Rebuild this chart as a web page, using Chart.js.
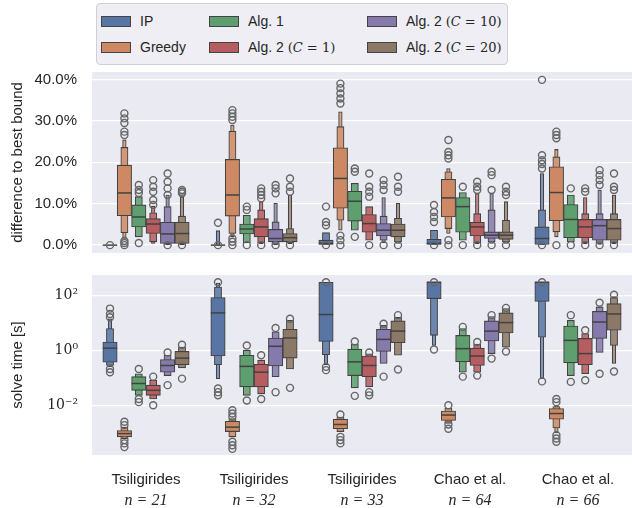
<!DOCTYPE html>
<html>
<head>
<meta charset="utf-8">
<script src="https://cdn.jsdelivr.net/npm/chart.js@4/dist/chart.umd.min.js"></script>
<style>
  html, body { margin: 0; padding: 0; background: #fff; }
  #wrap { position: relative; width: 632px; height: 508px; overflow: hidden; font-family: "Liberation Sans", sans-serif; color: #262626; }
  #top { position: absolute; left: 0; top: 0; }
  #bottom { position: absolute; left: 0; top: 262px; }
  #legend { position: absolute; left: 96px; top: 3px; width: 410px; height: 60px;
            border: 1px solid #cfcfd6; border-radius: 4px; background: #eeeef4; }
  .item { position: absolute; font-size: 14px; line-height: 16px; white-space: nowrap; }
  .patch { display: inline-block; width: 28px; height: 9px; border: 1px solid #444; vertical-align: -1px; margin-right: 9px; }
  .m { font-family: "DejaVu Serif", serif; font-size: 13px; }
  .m i { font-style: italic; }
</style>
</head>
<body>
<div id="wrap">
  <canvas id="top" width="632" height="258"></canvas>
  <canvas id="bottom" width="632" height="246"></canvas>
  <div id="legend"></div>
</div>
<script>
// categories along the x axis
const categories = ['Tsiligirides', 'Tsiligirides', 'Tsiligirides', 'Chao et al.', 'Chao et al.'];
const sizes = ['n = 21', 'n = 32', 'n = 33', 'n = 64', 'n = 66'];
const seriesNames = ['IP', 'Greedy', 'Alg. 1', 'Alg. 2 (C = 1)', 'Alg. 2 (C = 10)', 'Alg. 2 (C = 20)'];
const colors = ['#5875a4', '#cc8963', '#5f9e6e', '#b55d60', '#857aab', '#8c7866'];

// difference to best bound [%], one row per series, one entry per category
const gapMedian = [
  [0, 0, 0.4, 0.4, 1.6],
  [12.6, 12.1, 16.1, 11.4, 12.7],
  [6.8, 3.9, 10.6, 9.3, 6.2],
  [5.1, 4.4, 5.2, 4.4, 4.4],
  [2.7, 1.6, 3.6, 2.4, 4.7],
  [2.8, 1.8, 3.6, 2.4, 4.0]
];
// letter-value boxes, widest (quartiles) first
const gapBoxes = [
  [[[0, 0]], [[0, 0], [0, 0], [0, 3.5]], [[0, 1.2], [0, 3.0]], [[0, 1.4], [0, 3.6]], [[0, 4.4], [0, 8.5], [0, 17.3]]],
  [[[7.1, 19.3], [3.0, 23.6], [1.6, 25.4]], [[7.0, 20.7], [2.8, 27.5], [2.0, 29.0]], [[8.9, 23.5], [6.0, 28.6], [3.6, 32.2]],
   [[6.8, 15.9], [4.0, 17.7], [2.8, 18.5]], [[5.9, 18.9], [3.2, 21.3], [2.0, 23.1]]],
  [[[4.4, 9.7], [2.0, 11.7]], [[2.7, 5.1], [0.6, 7.2]], [[5.8, 13.0], [3.6, 14.9]], [[3.1, 11.5], [1.2, 12.7]], [[1.8, 9.8], [0.8, 12.1]]],
  [[[2.8, 6.4], [0.8, 7.8], [0.4, 9.4]], [[2.0, 6.4], [0.6, 8.5], [0.3, 10.5]], [[3.1, 7.4], [1.2, 9.3]],
   [[2.2, 5.5], [0.6, 7.6], [0.3, 12.5]], [[1.8, 6.2], [0.6, 7.6], [0.3, 11.5]]],
  [[[0.4, 5.5], [0.2, 9.3], [0.1, 12.1]], [[0.8, 3.8], [0.2, 5.6], [0.1, 10.1]], [[2.2, 5.2], [1.2, 7.0], [0.6, 11.5]],
   [[1.6, 3.2], [0.8, 8.5], [0.4, 12.5]], [[1.2, 6.2], [0.4, 7.6], [0.2, 13.3]]],
  [[[0.4, 5.5], [0.2, 7.0], [0.1, 11.7]], [[0.8, 2.8], [0.6, 4.0], [0.3, 12.1]], [[2.0, 5.1], [0.8, 6.5], [0.4, 10.1]],
   [[1.4, 3.2], [0.8, 6.0], [0.4, 10.5]], [[1.2, 6.2], [0.6, 7.6], [0.3, 12.1]]]
];
const gapOutliers = [
  [[0], [5.4, 0], [9.3, 5.6, 4.8, 0], [9.7, 8.0, 6.8, 5.6, 0], [39.9, 21.7, 20.5, 19.6, 18.5, 0]],
  [[31.8, 30.6, 29.5, 27.4, 26.6, 1.0, 0.5, 0], [32.6, 31.8, 31.0, 30.2, 1.6, 0.8, 0], [39.0, 37.9, 36.6, 35.4, 34.2, 2.3, 1.2, 0],
   [25.4, 22.5, 21.7, 20.9, 1.2, 0], [27.4, 26.6, 25.8, 0]],
  [[14.5, 13.3, 12.6, 0.5], [9.3, 8.5, 0], [18.5, 17.7, 2.0], [14.1, 0], [13.7, 0]],
  [[15.7, 14.1, 12.9, 10.9, 9.7], [13.7, 12.9, 12.1, 11.3, 0], [17.3, 14.1, 12.9, 11.7, 0], [15.3, 14.1, 13.3, 0], [13.7, 12.9, 0]],
  [[17.3, 15.3, 13.7, 12.1, 0], [14.5, 13.7, 12.5, 0], [15.7, 14.5, 13.3, 0], [17.7, 16.9, 13.3, 0], [18.1, 16.9, 15.7, 14.5, 0]],
  [[13.3, 12.9, 12.5, 0], [16.1, 14.1, 12.9, 0], [16.5, 14.1, 12.9, 0], [14.1, 12.9, 12.1, 0], [17.3, 14.1, 13.3, 0]]
];

// solve time [s]
const timeMedian = [
  [1.2, 23, 20, 300, 300],
  [0.00093, 0.0016, 0.0020, 0.0044, 0.0050],
  [0.062, 0.26, 0.38, 1.15, 2.3],
  [0.035, 0.16, 0.28, 0.62, 0.76],
  [0.28, 1.4, 2.5, 5.0, 10.7],
  [0.52, 2.8, 5.0, 10.2, 21]
];
const timeBoxes = [
  [[[0.37, 2.0], [0.28, 6.2], [0.25, 14]], [[0.62, 83], [0.30, 200], [0.093, 280]], [[2.1, 300], [0.69, 300], [0.30, 300]],
   [[76, 300], [3.5, 300], [1.5, 300]], [[60, 300], [3.0, 300], [0.093, 300]]],
  [[[0.00071, 0.0012], [0.0006, 0.0016]], [[0.0011, 0.0026], [0.00071, 0.0033]], [[0.0014, 0.0031], [0.0011, 0.0037]],
   [[0.0028, 0.0062], [0.0022, 0.0078]], [[0.0031, 0.0076], [0.0015, 0.009], [0.001, 0.01]]],
  [[[0.035, 0.11], [0.023, 0.14]], [[0.047, 0.66], [0.023, 1.0]], [[0.12, 1.1], [0.043, 1.7]], [[0.38, 3.5], [0.16, 6.2]], [[0.35, 7.6], [0.12, 12.3]]],
  [[[0.023, 0.054], [0.017, 0.081]], [[0.047, 0.31], [0.026, 0.44]], [[0.11, 0.62], [0.047, 0.75]], [[0.28, 1.2], [0.16, 1.7]], [[0.30, 2.7], [0.14, 4.1]]],
  [[[0.16, 0.46], [0.12, 0.66]], [[0.27, 2.8], [0.11, 4.7]], [[0.91, 5.8], [0.33, 8.1]], [[2.2, 11.7], [0.76, 17]], [[2.7, 26], [0.83, 38]]],
  [[[0.30, 0.91], [0.23, 1.3]], [[0.52, 5.8], [0.21, 12.3]], [[1.9, 11.7], [0.66, 16]], [[4.3, 23], [1.3, 33]], [[5.4, 50], [1.5, 83], [0.33, 90]]]
];
const timeOutliers = [
  [[33, 21, 16, 0.21, 0.16], [300, 0.041, 0.030, 0.023], [300, 0.25, 0.19], [300, 1.07], [300, 0.074]],
  [[0.0025, 0.0019, 0.00054, 0.00041, 0.0003], [0.0066, 0.005, 0.0038, 0.00047, 0.00035, 0.00026], [0.0046, 0.00071, 0.00054, 0.00041],
   [0.01, 0.002, 0.0014], [0.017, 0.013, 0.00081, 0.00062, 0.00047]],
  [[0.21, 0.017, 0.013], [1.5, 0.015], [2.1, 0.022], [7.1, 0.11], [19, 0.071]],
  [[0.11, 0.01], [0.66, 0.017], [0.83, 0.03, 0.023], [2.0, 0.12], [5.4, 0.081]],
  [[0.83, 0.054], [6.5, 0.03], [9.3, 0.11], [19, 0.5], [54, 0.14]],
  [[1.6, 0.093], [14, 0.043], [19, 0.2], [35, 0.91], [105, 0.17]]
];

const timeTicks = [0.01, 1, 100];
const timeTickLabels = ['10\u207B\u00B2', '10\u2070', '10\u00B2'];

// hue offsets inside a category (seaborn dodge, width .8 / 6)
const offsets = seriesNames.map((_, i) => (i - 2.5) * 0.8 / 6);
const boxWidths = [14.4, 7.2, 3.6, 1.8];
const edge = '#424242';

function tint(hex, t) {
  const n = parseInt(hex.slice(1), 16);
  const c = [n >> 16, (n >> 8) & 255, n & 255].map(v => Math.round(v + (255 - v) * t));
  return `rgb(${c[0]},${c[1]},${c[2]})`;
}

function buildDatasets(medians, boxes, outliers) {
  const out = [];
  const outPts = [];
  outliers.forEach((row, s) => row.forEach((vals, g) => vals.forEach(v => outPts.push({ x: g + offsets[s], y: v }))));
  out.push({
    type: 'scatter', data: outPts, pointStyle: 'circle', pointRadius: 3.5,
    backgroundColor: 'rgba(0,0,0,0)', borderColor: '#666666', borderWidth: 1.4
  });
  const medPts = [];
  medians.forEach((row, s) => row.forEach((v, g) => medPts.push({ x: g + offsets[s], y: v })));
  out.push({
    type: 'scatter', data: medPts, pointStyle: 'line', pointRadius: boxWidths[0] / 2,
    borderColor: edge, borderWidth: 1.5
  });
  for (let lvl = 0; lvl < boxWidths.length; lvl++) {
    boxes.forEach((row, s) => {
      const pts = [];
      row.forEach((levels, g) => { if (levels[lvl]) pts.push({ x: g + offsets[s], y: levels[lvl] }); });
      if (!pts.length) return;
      out.push({
        type: 'bar', data: pts, grouped: false, barThickness: boxWidths[lvl],
        backgroundColor: tint(colors[s], lvl * 0.12), borderColor: edge, borderWidth: 1.1, borderSkipped: false
      });
    });
  }
  return out;
}

const bgPlugin = {
  id: 'bg',
  beforeDraw(chart) {
    const { ctx, chartArea: a } = chart;
    ctx.save();
    ctx.fillStyle = '#eaeaf2';
    ctx.fillRect(a.left, a.top, a.width, a.height);
    ctx.restore();
  }
};

// fixed axis sizes, and no extra room for the edge labels
function fixWidth(w) {
  return s => { s.width = w; s.paddingTop = 0; s.paddingBottom = 0; };
}
function fixHeight(h) {
  return s => { s.height = h; s.paddingLeft = 0; s.paddingRight = 0; };
}

const xBase = { type: 'linear', min: -0.5, max: 4.5, offset: false, grace: 0 };

new Chart(document.getElementById('top'), {
  type: 'bar',
  data: { datasets: buildDatasets(gapMedian, gapBoxes, gapOutliers) },
  options: {
    responsive: false, animation: false, events: [],
    layout: { autoPadding: false, padding: { top: 72, bottom: 5, left: 0, right: 0 } },
    plugins: { legend: { display: false }, tooltip: { enabled: false } },
    scales: {
      x: { ...xBase, display: false },
      y: {
        type: 'linear', min: -1.9, max: 41.8,
        afterBuildTicks: s => { s.ticks = [0, 10, 20, 30, 40].map(v => ({ value: v })); },
        afterFit: fixWidth(92),
        grid: { color: '#ffffff', lineWidth: 1.3, drawTicks: false },
        border: { display: false },
        ticks: { padding: 15, color: '#262626', font: { family: 'Liberation Sans', size: 15 },
                 callback: v => v.toFixed(1) + '%' },
        title: { display: true, text: 'difference to best bound', color: '#262626',
                 font: { family: 'Liberation Sans', size: 15 }, padding: { top: 9, bottom: 0 } }
      }
    }
  },
  plugins: [bgPlugin]
});

new Chart(document.getElementById('bottom'), {
  type: 'bar',
  data: { datasets: buildDatasets(timeMedian, timeBoxes, timeOutliers) },
  options: {
    responsive: false, animation: false, events: [],
    layout: { autoPadding: false, padding: { top: 13, bottom: 0, left: 0, right: 0 } },
    plugins: { legend: { display: false }, tooltip: { enabled: false } },
    scales: {
      x: {
        ...xBase, weight: 0,
        afterBuildTicks: s => { s.ticks = categories.map((_, i) => ({ value: i })); },
        afterFit: fixHeight(33),
        grid: { display: false }, border: { display: false },
        ticks: { padding: 8, autoSkip: false, maxRotation: 0, color: '#262626',
                 font: { family: 'Liberation Sans', size: 15 }, callback: v => categories[v] }
      },
      x2: {
        ...xBase, position: 'bottom', weight: 1,
        afterBuildTicks: s => { s.ticks = sizes.map((_, i) => ({ value: i })); },
        afterFit: fixHeight(20),
        grid: { display: false }, border: { display: false },
        ticks: { padding: -5, autoSkip: false, maxRotation: 0, color: '#262626',
                 font: { family: 'Liberation Serif', size: 16, style: 'italic' }, callback: v => sizes[v] }
      },
      y: {
        type: 'logarithmic', min: 0.000155, max: 550,
        afterBuildTicks: s => { s.ticks = timeTicks.map(v => ({ value: v })); },
        afterFit: fixWidth(92),
        grid: { color: '#ffffff', lineWidth: 1.3, drawTicks: false },
        border: { display: false },
        ticks: { padding: 14, color: '#262626', font: { family: 'DejaVu Serif', size: 14 },
                 callback: v => timeTickLabels[timeTicks.indexOf(v)] },
        title: { display: true, text: 'solve time [s]', color: '#262626',
                 font: { family: 'Liberation Sans', size: 15 }, padding: { top: 9, bottom: 0 } }
      }
    }
  },
  plugins: [bgPlugin]
});

// legend, laid out column by column like the original
const legendCells = [
  { s: 0, left: 4, top: 9, html: 'IP' },
  { s: 1, left: 4, top: 35, html: 'Greedy' },
  { s: 2, left: 112, top: 9, html: 'Alg. 1' },
  { s: 3, left: 112, top: 35, html: 'Alg. 2 <span class="m">(<i>C</i> = 1)</span>' },
  { s: 4, left: 270, top: 9, html: 'Alg. 2 <span class="m">(<i>C</i> = 10)</span>' },
  { s: 5, left: 270, top: 35, html: 'Alg. 2 <span class="m">(<i>C</i> = 20)</span>' }
];
const legend = document.getElementById('legend');
legendCells.forEach(c => {
  const d = document.createElement('div');
  d.className = 'item';
  d.style.left = c.left + 'px';
  d.style.top = c.top + 'px';
  d.innerHTML = `<span class="patch" style="background:${colors[c.s]}"></span>${c.html}`;
  legend.appendChild(d);
});
</script>
</body>
</html>
